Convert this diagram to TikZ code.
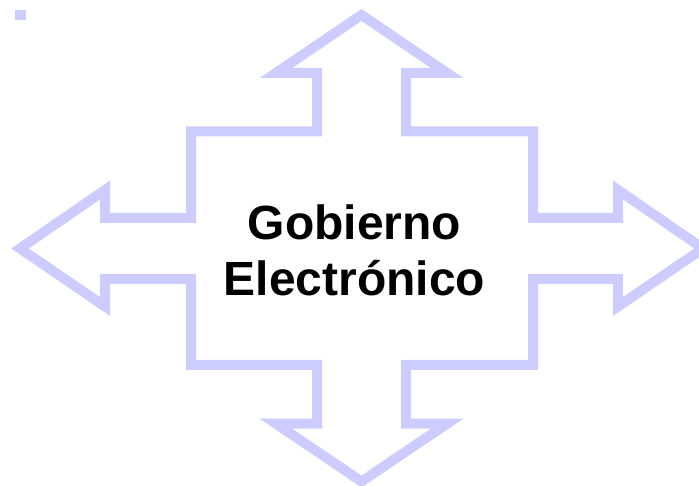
\documentclass[tikz,border=0pt]{standalone}
\usepackage{fontspec}
\setmainfont{Liberation Sans}
\definecolor{outlineblue}{HTML}{CCCCFF}
\tikzset{
  crossoutline/.style={draw=outlineblue,line width=10pt,line join=miter,miter limit=10},
  bullet/.style={fill=outlineblue,draw=none},
  title/.style={font=\fontsize{48}{56}\selectfont\bfseries,align=center,text=black,inner sep=0pt}
}
\begin{document}
\begin{tikzpicture}[x=1pt,y=-1pt]
\useasboundingbox (0,0) rectangle (699,486);
\fill[bullet] (15,10) rectangle (26,20);
\begin{scope}
\clip (0,0) rectangle (699,486);
\draw[crossoutline]
 (361.5,15) -- (447,73) -- (406,73) -- (406,131.5) -- (533,131.5) -- (533,218) -- (618,218)
 -- (618,190) -- (703,248.5) -- (618,306.5) -- (618,279) -- (533,279) -- (533,365)
 -- (406,365) -- (406,423.7) -- (447,423.7) -- (361.5,481.5) -- (276,423.7) -- (317,423.7)
 -- (317,365) -- (191,365) -- (191,279) -- (105,279) -- (105,306.5) -- (20,248.5)
 -- (105,190) -- (105,218) -- (191,218) -- (191,131.5) -- (317,131.5) -- (317,73)
 -- (276,73) -- cycle;
\end{scope}
\node[title] (label) at (354.5,250) {Gobierno\\Electrónico};
\end{tikzpicture}
\end{document}
